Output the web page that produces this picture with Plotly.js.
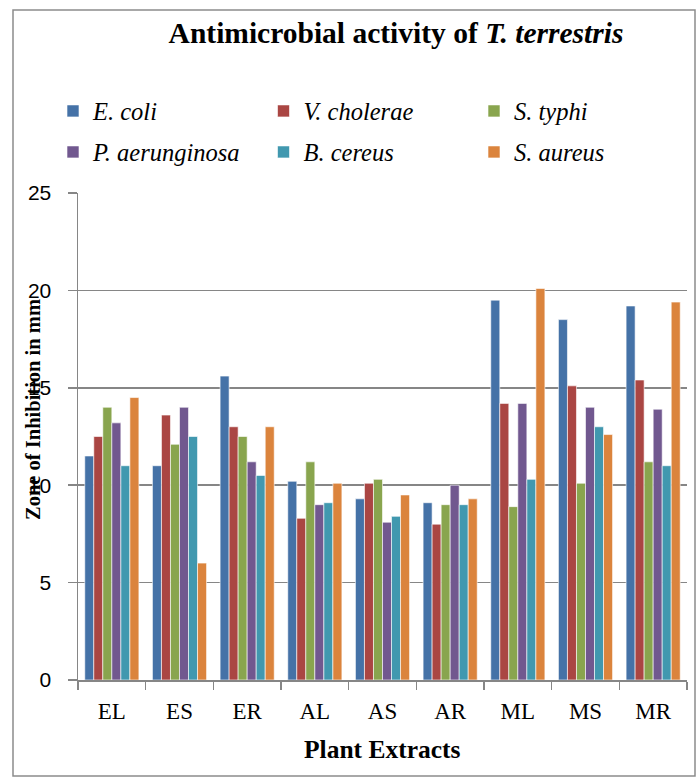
<!DOCTYPE html>
<html>
<head>
<meta charset="utf-8">
<script src="https://cdn.plot.ly/plotly-3.0.1.min.js"></script>
<style>html,body{margin:0;padding:0;background:#fff;}#chart{width:700px;height:778px;}</style>
</head>
<body>
<div id="chart"></div>
<script>
const categories = ['EL','ES','ER','AL','AS','AR','ML','MS','MR'];
const seriesNames = ['E. coli','V. cholerae','S. typhi','P. aerunginosa','B. cereus','S. aureus'];
const eColi        = [11.5, 11.0, 15.6, 10.2, 9.3, 9.1, 19.5, 18.5, 19.2];
const vCholerae    = [12.5, 13.6, 13.0, 8.3, 10.1, 8.0, 14.2, 15.1, 15.4];
const sTyphi       = [14.0, 12.1, 12.5, 11.2, 10.3, 9.0, 8.9, 10.1, 11.2];
const pAerunginosa = [13.2, 14.0, 11.2, 9.0, 8.1, 10.0, 14.2, 14.0, 13.9];
const bCereus      = [11.0, 12.5, 10.5, 9.1, 8.4, 9.0, 10.3, 13.0, 11.0];
const sAureus      = [14.5, 6.0, 13.0, 10.1, 9.5, 9.3, 20.1, 12.6, 19.4];
const yTicks = [0, 5, 10, 15, 20, 25];

const seriesValues = [eColi, vCholerae, sTyphi, pAerunginosa, bCereus, sAureus];
const colors = ['#4572A7','#AA4643','#89A54E','#71588F','#4198AF','#DB843D'];
const legendIds = ['legend','legend','legend','legend2','legend2','legend2'];

const W = 700, H = 778, ml = 78, mr = 13, mt = 193, mb = 98;
const pw = W - ml - mr, ph = H - mt - mb;
const px = x => (x - ml) / pw;
const py = y => (H - mb - y) / ph;

const traces = seriesValues.map((vals, i) => ({
  type: 'bar',
  x: categories,
  y: vals,
  name: '<i>' + seriesNames[i] + '</i>',
  legend: legendIds[i],
  marker: {color: colors[i], line: {color: '#ffffff', width: 0.6}}
}));

const serif = 'Liberation Serif, Times New Roman, serif';
const legendBase = {
  orientation: 'h', xanchor: 'left', yanchor: 'middle',
  entrywidth: 165.5, entrywidthmode: 'pixels',
  font: {family: serif, size: 24.5, color: '#000'},
  bgcolor: 'rgba(0,0,0,0)', borderwidth: 0, traceorder: 'normal'
};

const layout = {
  width: W, height: H,
  margin: {l: ml, r: mr, t: mt, b: mb},
  paper_bgcolor: '#fff', plot_bgcolor: '#fff',
  barmode: 'group', bargap: 0.2, bargroupgap: 0,
  showlegend: true,
  title: {
    text: '<b>Antimicrobial activity of <i>T. terrestris</i></b>',
    font: {family: serif, size: 29.5, color: '#000'},
    xref: 'paper', x: px(396), xanchor: 'center',
    yref: 'container', y: 1 - 33 / H, yanchor: 'middle'
  },
  legend: Object.assign({}, legendBase, {x: px(53), y: py(111)}),
  legend2: Object.assign({}, legendBase, {x: px(53), y: py(152)}),
  xaxis: {
    type: 'category', tickson: 'boundaries', ticks: 'outside', ticklen: 8,
    tickcolor: '#868686', tickwidth: 1.5,
    showline: true, linecolor: '#868686', linewidth: 1.5,
    showgrid: false, zeroline: false,
    tickfont: {family: serif, size: 23, color: '#000'},
    ticklabelstandoff: 10, fixedrange: true
  },
  yaxis: {
    range: [0, 25], tickvals: yTicks, ticktext: yTicks.map(String),
    ticks: 'outside', ticklen: 9, tickcolor: '#868686', tickwidth: 1.5,
    showline: true, linecolor: '#868686', linewidth: 1.5,
    showgrid: true, gridcolor: '#868686', gridwidth: 1.5, zeroline: false,
    tickfont: {family: 'Liberation Sans, Arial, sans-serif', size: 21, color: '#000'},
    ticklabelstandoff: 12, fixedrange: true
  },
  annotations: [
    {text: '<b>Zone of Inhibition in mm</b>', textangle: -90,
     xref: 'paper', yref: 'paper', x: px(33), y: py(410), xanchor: 'center', yanchor: 'middle',
     showarrow: false, font: {family: serif, size: 20.5, color: '#000'}},
    {text: '<b>Plant Extracts</b>',
     xref: 'paper', yref: 'paper', x: px(382), y: py(749), xanchor: 'center', yanchor: 'middle',
     showarrow: false, font: {family: serif, size: 25.5, color: '#000'}}
  ],
  shapes: [
    {type: 'rect', xref: 'paper', yref: 'paper', x0: px(13), x1: px(695), y0: py(776), y1: py(10),
     line: {color: '#8c8c8c', width: 1.5}, fillcolor: 'rgba(0,0,0,0)', layer: 'below'}
  ]
};

Plotly.newPlot('chart', traces, layout, {displayModeBar: false, staticPlot: true});
</script>
</body>
</html>
